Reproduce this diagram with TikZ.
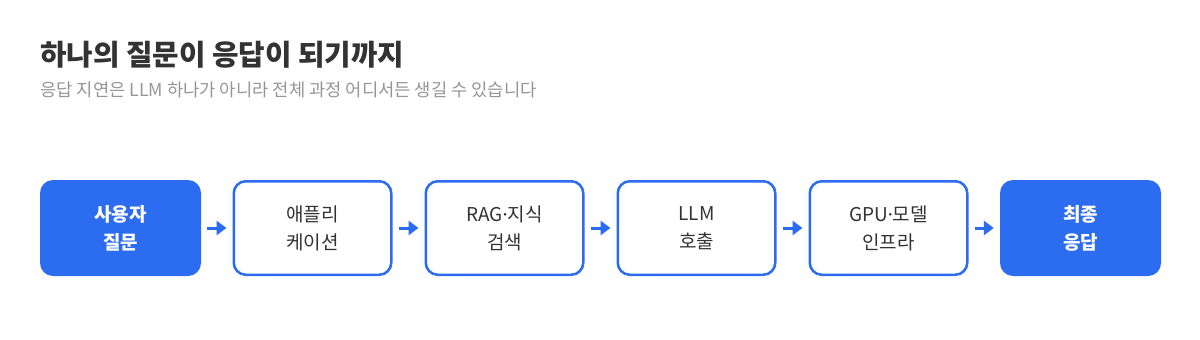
\documentclass[tikz,border=0pt]{standalone}
\usepackage{fontspec}
\setmainfont{Noto Sans CJK KR}
\newfontfamily\latinfont{Noto Sans}
\usetikzlibrary{arrows.meta}
\definecolor{brand}{RGB}{43,108,240}
\definecolor{titlec}{RGB}{51,51,51}
\definecolor{subc}{RGB}{150,150,150}
\definecolor{txt}{RGB}{51,51,51}
\newcommand{\mdot}{{\latinfont ·}}
\begin{document}
\begin{tikzpicture}[x=1pt,y=-1pt,
  filledbox/.style={fill=brand,draw=none,rounded corners=13pt,minimum width=161pt,minimum height=96pt,inner sep=0pt,text=white,font=\fontsize{19}{28}\selectfont\bfseries,align=center},
  outbox/.style={fill=white,draw=brand,line width=2.5pt,rounded corners=12pt,minimum width=157.5pt,minimum height=93.5pt,inner sep=0pt,text=txt,font=\fontsize{19}{28}\selectfont,align=center},
  flow/.style={draw=brand,line width=3pt,-{Triangle[length=10pt,width=14pt]},shorten <=6pt,shorten >=6pt}]
\useasboundingbox (0,0) rectangle (1200,340);
\fill[white] (0,0) rectangle (1200,340);
\node[anchor=base west,inner sep=0pt,text=titlec,font=\fontsize{28.8}{32}\selectfont\bfseries] (title) at (40,65) {하나의 질문이 응답이 되기까지};
\node[anchor=base west,inner sep=0pt,text=subc,font=\fontsize{17.7}{20}\selectfont] (sub) at (40,96) {응답 지연은 LLM 하나가 아니라 전체 과정 어디서든 생길 수 있습니다};
\node[filledbox] (n1) at (120.5,228) {사용자\\질문};
\node[outbox] (n2) at (312.5,228) {애플리\\케이션};
\node[outbox] (n3) at (504.5,228) {RAG\mdot 지식\\검색};
\node[outbox] (n4) at (696.5,228) {LLM\\호출};
\node[outbox] (n5) at (888.5,228) {GPU\mdot 모델\\인프라};
\node[filledbox] (n6) at (1080.5,228) {최종\\응답};
\foreach \a/\b in {n1/n2,n2/n3,n3/n4,n4/n5,n5/n6}
  \draw[flow] (\a.east) -- (\b.west);
\end{tikzpicture}
\end{document}
